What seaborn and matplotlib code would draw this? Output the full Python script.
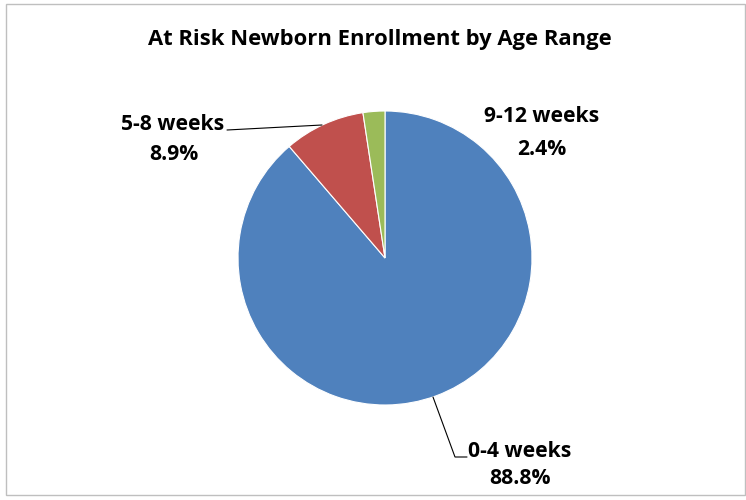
"""
At Risk Newborn Enrollment by Age Range - pie chart recreation.
"""

import matplotlib
matplotlib.use('Agg')
import matplotlib.pyplot as plt
from matplotlib.patches import Rectangle
import seaborn as sns

# Data
age_ranges = ['0-4 weeks', '5-8 weeks', '9-12 weeks']
shares = [88.8, 8.9, 2.4]
colors = sns.color_palette(['#4F81BD', '#C0504D', '#9BBB59'])

sns.set_theme(style='white')
plt.rcParams['font.family'] = ['Open Sans', 'DejaVu Sans']

fig = plt.figure(figsize=(7.46, 5.0), dpi=100)
ax = fig.add_axes([0, 0, 1, 1])

# pie in pixel-like coordinates (y up)
ax.pie(shares, colors=colors, startangle=90, counterclock=False,
       center=(385, 242), radius=147, frame=True,
       wedgeprops={'edgecolor': 'white', 'linewidth': 0.8})

ax.set_xlim(0, 746)
ax.set_ylim(0, 500)
ax.set_aspect('equal')
ax.axis('off')

# chart border
ax.add_patch(Rectangle((6, 5), 739, 491, fill=False, edgecolor='#BFBFBF', linewidth=1))

ax.text(380, 455, 'At Risk Newborn Enrollment by Age Range', ha='center', va='baseline',
        fontsize=15.8, fontweight='bold', color='black')

lbl = dict(ha='center', va='baseline', fontsize=15.2, fontweight='bold', color='black')

# 9-12 weeks
ax.text(542, 378, age_ranges[2], **lbl)
ax.text(542, 345, f'{shares[2]}%', **lbl)

# 5-8 weeks
ax.text(173, 370, age_ranges[1], **lbl)
ax.text(174, 340, f'{shares[1]}%', **lbl)
ax.plot([227, 322], [370, 375], color='black', linewidth=0.8)

# 0-4 weeks
ax.text(520, 43, age_ranges[0], **lbl)
ax.text(520, 16, f'{shares[0]}%', **lbl)
ax.plot([433, 455, 467], [103, 43, 43], color='black', linewidth=0.8)

plt.savefig('out.png', dpi=100)
plt.close()
